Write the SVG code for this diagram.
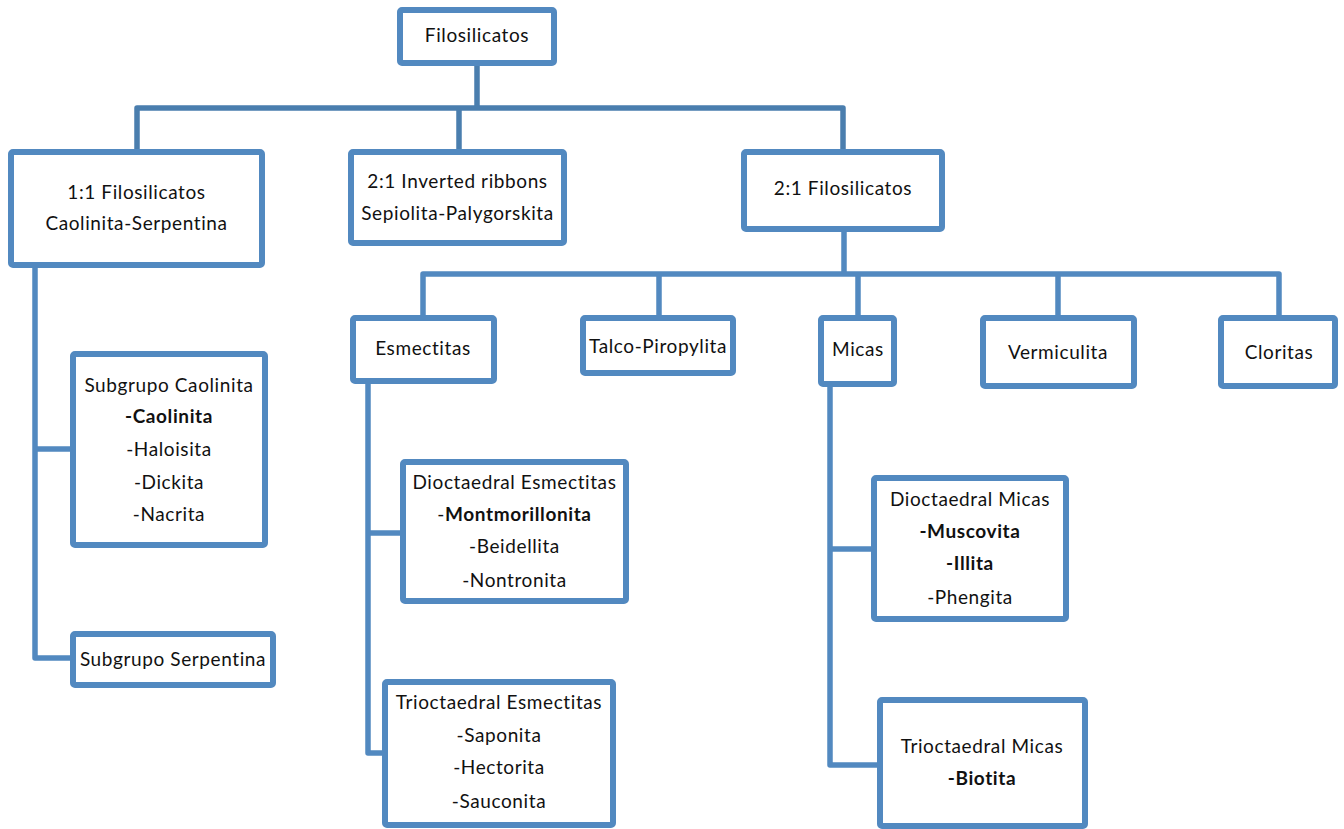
<svg xmlns="http://www.w3.org/2000/svg" width="1344" height="829" viewBox="0 0 1344 829">
<style>
.box{fill:#fff;stroke:#5289C0;stroke-width:6;}
.c{fill:none;stroke:#5289C0;stroke-width:5.5;stroke-linejoin:round;}
.ct{fill:none;stroke:#4A7EAE;stroke-width:5.5;stroke-linejoin:round;}
text{font-family:Lato,"Liberation Sans",sans-serif;font-size:19px;letter-spacing:0.6px;fill:#111;text-anchor:middle;}
.b{font-weight:bold;}
</style>
<rect width="1344" height="829" fill="#fff"/>
<g id="connectors">
<path class="ct" d="M477,66 V108 M137,149 V108 H843 V149 M459,108 V149"/>
<path class="c" d="M35,268 V658 H70 M35,449 H70"/>
<path class="c" d="M844,232 V274 M423,315 V274 H1279 V315 M659,274 V315 M858,274 V315 M1058,274 V315"/>
<path class="c" d="M368,384 V753 H382 M368,533 H400"/>
<path class="c" d="M830,387 V765 H877 M830,549 H871"/>
</g>
<g id="n-filosilicatos"><rect class="box" x="400" y="10" width="154" height="53" rx="2"/><text x="477" y="42">Filosilicatos</text></g>
<g id="n-11"><rect class="box" x="11" y="152" width="251" height="113" rx="2"/><text x="136.5" y="199">1:1 Filosilicatos</text><text x="136.5" y="230">Caolinita-Serpentina</text></g>
<g id="n-inverted"><rect class="box" x="351" y="152" width="213" height="91" rx="2"/><text x="457.5" y="188">2:1 Inverted ribbons</text><text x="457.5" y="220">Sepiolita-Palygorskita</text></g>
<g id="n-21"><rect class="box" x="744" y="152" width="198" height="77" rx="2"/><text x="843" y="195">2:1 Filosilicatos</text></g>
<g id="n-esmectitas"><rect class="box" x="353" y="318" width="141" height="63" rx="2"/><text x="423" y="355">Esmectitas</text></g>
<g id="n-talco"><rect class="box" x="583" y="318" width="150" height="55" rx="2"/><text x="658" y="353">Talco-Piropylita</text></g>
<g id="n-micas"><rect class="box" x="821" y="318" width="73" height="66" rx="2"/><text x="858" y="356">Micas</text></g>
<g id="n-vermiculita"><rect class="box" x="983" y="318" width="151" height="68" rx="2"/><text x="1058" y="359">Vermiculita</text></g>
<g id="n-cloritas"><rect class="box" x="1221" y="318" width="114" height="68" rx="2"/><text x="1279" y="359">Cloritas</text></g>
<g id="n-caolinita"><rect class="box" x="73" y="354" width="192" height="191" rx="2"/>
<text x="169" y="392">Subgrupo Caolinita</text>
<text x="169" y="423" class="b">-Caolinita</text>
<text x="169" y="456">-Haloisita</text>
<text x="169" y="489">-Dickita</text>
<text x="169" y="521">-Nacrita</text></g>
<g id="n-serpentina"><rect class="box" x="73" y="634" width="200" height="51" rx="2"/><text x="173" y="666">Subgrupo Serpentina</text></g>
<g id="n-diocesm"><rect class="box" x="403" y="462" width="223" height="139" rx="2"/>
<text x="514.5" y="489">Dioctaedral Esmectitas</text>
<text x="514.5" y="521"><tspan>-</tspan><tspan class="b">Montmorillonita</tspan></text>
<text x="514.5" y="553">-Beidellita</text>
<text x="514.5" y="587">-Nontronita</text></g>
<g id="n-triocesm"><rect class="box" x="385" y="682" width="228" height="143" rx="2"/>
<text x="499" y="709">Trioctaedral Esmectitas</text>
<text x="499" y="742">-Saponita</text>
<text x="499" y="774">-Hectorita</text>
<text x="499" y="808">-Sauconita</text></g>
<g id="n-diocmicas"><rect class="box" x="874" y="478" width="192" height="141" rx="2"/>
<text x="970" y="506">Dioctaedral Micas</text>
<text x="970" y="538" class="b">-Muscovita</text>
<text x="970" y="570" class="b">-Illita</text>
<text x="970" y="604">-Phengita</text></g>
<g id="n-triocmicas"><rect class="box" x="880" y="700" width="205" height="126" rx="2"/>
<text x="982" y="753">Trioctaedral Micas</text>
<text x="982" y="785" class="b">-Biotita</text></g>
</svg>
